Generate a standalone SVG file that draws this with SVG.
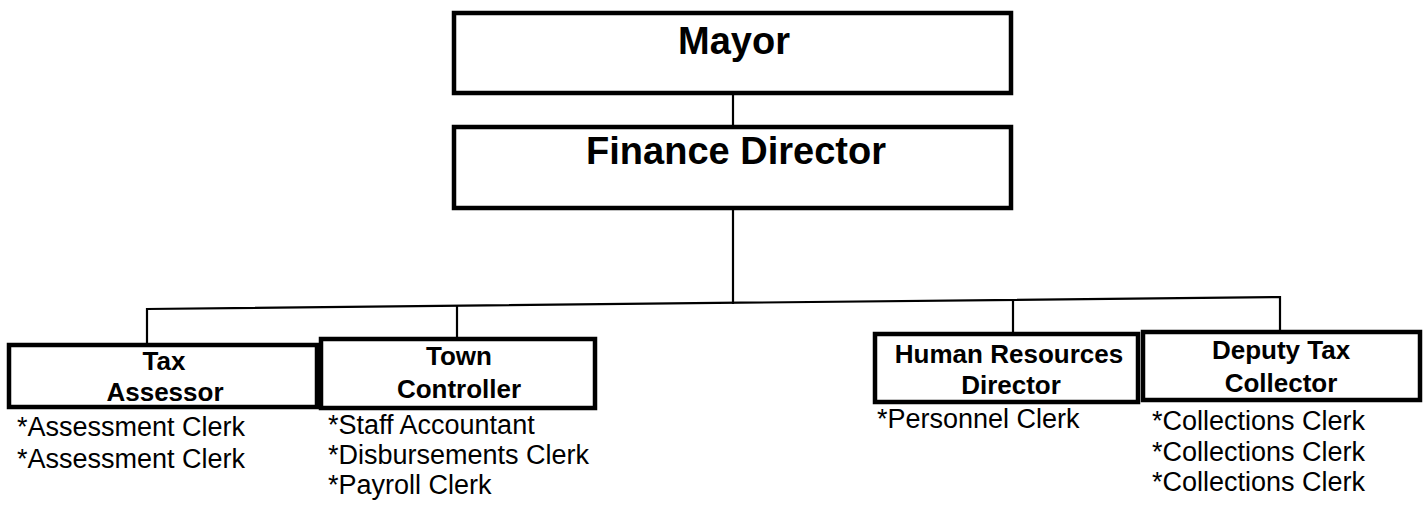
<svg xmlns="http://www.w3.org/2000/svg" width="1425" height="508" viewBox="0 0 1425 508">
<style>
.box{fill:#fff;stroke:#000;stroke-width:4.5}
.ln{fill:none;stroke:#000;stroke-width:2.2}
.t1{font-family:"Liberation Sans",Arial,sans-serif;font-weight:bold;font-size:38px;fill:#000;text-anchor:middle}
.t2{font-family:"Liberation Sans",Arial,sans-serif;font-weight:bold;font-size:26px;fill:#000;text-anchor:middle}
.t3{font-family:"Liberation Sans",Arial,sans-serif;font-size:27px;fill:#000}
</style>
<rect width="1425" height="508" fill="#fff"/>
<g id="connectors">
<line class="ln" x1="733" y1="93" x2="733" y2="127"/>
<line class="ln" x1="733" y1="208" x2="733" y2="304"/>
<polyline class="ln" points="147,345 147,309 1280,297 1280,332"/>
<line class="ln" x1="457" y1="306" x2="457" y2="339"/>
<line class="ln" x1="1013" y1="301" x2="1013" y2="334"/>
</g>
<g id="mayor">
<rect class="box" x="454" y="13" width="557" height="80"/>
<text class="t1" x="734" y="54">Mayor</text>
</g>
<g id="finance-director">
<rect class="box" x="454" y="127" width="557" height="81"/>
<text class="t1" x="736" y="164">Finance Director</text>
</g>
<g id="tax-assessor">
<rect class="box" x="9" y="345" width="308" height="62"/>
<text class="t2" x="164" y="370">Tax</text>
<text class="t2" x="165" y="401">Assessor</text>
<text class="t3" x="17" y="436">*Assessment Clerk</text>
<text class="t3" x="17" y="468">*Assessment Clerk</text>
</g>
<g id="town-controller">
<rect class="box" x="321" y="339" width="274" height="69"/>
<text class="t2" x="459" y="365">Town</text>
<text class="t2" x="459" y="398">Controller</text>
<text class="t3" x="328" y="434">*Staff Accountant</text>
<text class="t3" x="328" y="464">*Disbursements Clerk</text>
<text class="t3" x="328" y="494">*Payroll Clerk</text>
</g>
<g id="hr-director">
<rect class="box" x="875" y="334" width="263" height="68"/>
<text class="t2" x="1009" y="363">Human Resources</text>
<text class="t2" x="1011" y="394">Director</text>
<text class="t3" x="877" y="428">*Personnel Clerk</text>
</g>
<g id="deputy-tax-collector">
<rect class="box" x="1143" y="332" width="277" height="68"/>
<text class="t2" x="1281" y="359">Deputy Tax</text>
<text class="t2" x="1281" y="392">Collector</text>
<text class="t3" x="1152" y="430">*Collections Clerk</text>
<text class="t3" x="1152" y="461">*Collections Clerk</text>
<text class="t3" x="1152" y="491">*Collections Clerk</text>
</g>
</svg>
